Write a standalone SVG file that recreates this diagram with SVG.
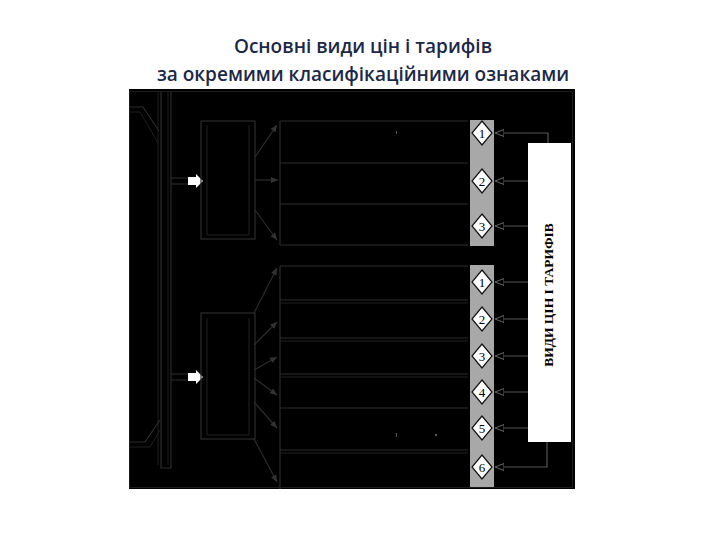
<svg xmlns="http://www.w3.org/2000/svg" width="720" height="540" viewBox="0 0 720 540">
<style>
.title{font-family:"Open Sans","Liberation Sans",sans-serif;font-size:19px;font-weight:600;fill:#1c2847;text-anchor:middle}
.ln{fill:none;stroke:#2c2c2c;stroke-width:1.2}
.ln2{fill:none;stroke:#202020;stroke-width:1}
.ar{fill:none;stroke:#555;stroke-width:1.2}
.dm{fill:#fff;stroke:#111;stroke-width:1.2}
.num{font-family:"Liberation Serif",serif;font-size:13px;fill:#000;text-anchor:middle}
.wa{fill:#fff}
</style>
<defs>
<marker id="ah" markerWidth="8" markerHeight="8" refX="7" refY="4" orient="auto" markerUnits="userSpaceOnUse">
<path d="M0,1 L7,4 L0,7 Z" fill="#333"/>
</marker>
<marker id="oa" markerWidth="12" markerHeight="10" refX="9" refY="5" orient="auto" markerUnits="userSpaceOnUse">
<path d="M0,1.5 L9,5 L0,8.5 Z" fill="#000" stroke="#666" stroke-width="1"/>
</marker>
<path id="dia" d="M0,-12 L10,0 L0,12 L-10,0 Z"/>
</defs>
<rect width="720" height="540" fill="#fff"/>
<text class="title" x="363" y="53">Основні види цін і тарифів</text>
<text class="title" x="363" y="81">за окремими класифікаційними ознаками</text>

<rect x="129" y="89" width="446" height="400" fill="#000"/>
<rect x="129.5" y="91.5" width="443" height="396" fill="none" stroke="#1c1c1c"/>

<g id="bus">
<path class="ln" d="M161,92 V468 H171 V92"/>
<path class="ln2" d="M158,92 V465 M168,92 V465"/>
<path class="ln" d="M129,107 H143 L159,131"/>
<path class="ln2" d="M129,112 H140 L158,143"/>
<path class="ln" d="M129,442 H145 L160,420"/>
<path class="ln2" d="M129,447 H150 L160,430"/>
</g>

<g id="connectors">
<path class="ln" d="M171,178 H188 M171,184 H188"/>
<path class="ln" d="M171,374 H188 M171,380 H188"/>
<path class="wa" d="M188,177 H196 V174 L203,181 L196,188 V185 H188 Z"/>
<path class="wa" d="M188,373 H196 V370 L203,377 L196,384 V381 H188 Z"/>
<line class="ln" x1="255" y1="157" x2="277" y2="125" marker-end="url(#ah)"/>
<line class="ln" x1="255" y1="180" x2="278" y2="180" marker-end="url(#ah)"/>
<line class="ln" x1="255" y1="210" x2="277" y2="240" marker-end="url(#ah)"/>
<line class="ln" x1="254" y1="313" x2="277" y2="268" marker-end="url(#ah)"/>
<line class="ln" x1="254" y1="345" x2="277" y2="322" marker-end="url(#ah)"/>
<line class="ln" x1="254" y1="370" x2="277" y2="357" marker-end="url(#ah)"/>
<line class="ln" x1="254" y1="378" x2="277" y2="395" marker-end="url(#ah)"/>
<line class="ln" x1="254" y1="402" x2="277" y2="428" marker-end="url(#ah)"/>
<line class="ln" x1="254" y1="439" x2="277" y2="482" marker-end="url(#ah)"/>
<path class="ar" d="M548,143 V133 H495" marker-end="url(#oa)"/>
<path class="ar" d="M528,181 H495" marker-end="url(#oa)"/>
<path class="ar" d="M528,226 H495" marker-end="url(#oa)"/>
<path class="ar" d="M528,282 H495" marker-end="url(#oa)"/>
<path class="ar" d="M528,319 H495" marker-end="url(#oa)"/>
<path class="ar" d="M528,356 H495" marker-end="url(#oa)"/>
<path class="ar" d="M528,392 H495" marker-end="url(#oa)"/>
<path class="ar" d="M528,428 H495" marker-end="url(#oa)"/>
<path class="ar" d="M547,442 V467 H495" marker-end="url(#oa)"/>
</g>

<g id="box-upper">
<rect class="ln" x="201" y="121" width="54" height="118"/>
<path class="ln2" d="M207,125 V235 H249 V125"/>
</g>
<g id="box-lower">
<rect class="ln" x="201" y="313" width="54" height="126"/>
<path class="ln2" d="M207,318 V435 H249 V318"/>
</g>

<g id="rows-upper">
<path class="ln" d="M280,121 V245"/>
<path class="ln" d="M280,121 H468 M280,163 H468 M280,204 H468 M280,245 H468"/>
</g>
<g id="rows-lower">
<path class="ln" d="M280,266 V489"/>
<path class="ln" d="M280,266 H468 M280,300 H468 M280,338 H468 M280,374 H468 M280,408 H468 M280,450 H468"/>
<path class="ln2" d="M280,303 H468 M280,341 H468 M280,377 H468 M280,453 H468"/>
</g>

<g id="strip-upper">
<rect x="470" y="120" width="24" height="126" fill="#a8a8a8"/>
<use href="#dia" class="dm" x="482" y="133"/><text class="num" x="482" y="137.5">1</text>
<use href="#dia" class="dm" x="482" y="181"/><text class="num" x="482" y="185.5">2</text>
<use href="#dia" class="dm" x="482" y="226"/><text class="num" x="482" y="230.5">3</text>
</g>
<g id="strip-lower">
<rect x="470" y="265" width="24" height="222" fill="#a8a8a8"/>
<use href="#dia" class="dm" x="482" y="282"/><text class="num" x="482" y="286.5">1</text>
<use href="#dia" class="dm" x="482" y="319"/><text class="num" x="482" y="323.5">2</text>
<use href="#dia" class="dm" x="482" y="356"/><text class="num" x="482" y="360.5">3</text>
<use href="#dia" class="dm" x="482" y="392"/><text class="num" x="482" y="396.5">4</text>
<use href="#dia" class="dm" x="482" y="428"/><text class="num" x="482" y="432.5">5</text>
<use href="#dia" class="dm" x="482" y="467"/><text class="num" x="482" y="471.5">6</text>
</g>

<g id="types">
<rect x="528" y="143" width="43" height="299" fill="#fff"/>
<text x="0" y="0" transform="translate(553,295) rotate(-90)" font-family="'Liberation Serif',serif" font-weight="bold" font-size="13.5" text-anchor="middle" fill="#000">ВИДИ ЦІН І ТАРИФІВ</text>
</g>

<g id="specks" fill="#555">
<rect x="396" y="131" width="1" height="3"/>
<rect x="396" y="433" width="1" height="4"/>
<rect x="435" y="434" width="2" height="2"/>
</g>
</svg>
